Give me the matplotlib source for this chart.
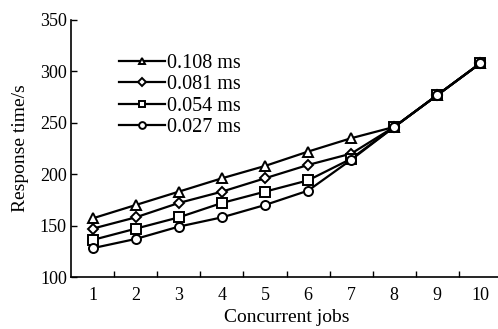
import matplotlib
matplotlib.use('Agg')
import matplotlib.pyplot as plt

# 数据
jobs = [1, 2, 3, 4, 5, 6, 7, 8, 9, 10]
labels = ['0.108 ms', '0.081 ms', '0.054 ms', '0.027 ms']
markers = ['^', 'D', 's', 'o']
t_108 = [157, 170, 183, 196, 208, 222, 235, 246, 277, 308]
t_081 = [147, 158, 172, 183, 196, 209, 220, 246, 277, 308]
t_054 = [136, 147, 158, 172, 183, 194, 215, 246, 277, 308]
t_027 = [128, 137, 149, 158, 170, 184, 214, 246, 277, 308]
y_ticks = [100, 150, 200, 250, 300, 350]

plt.rcParams['font.family'] = ['Liberation Serif', 'DejaVu Serif']

fig = plt.figure(figsize=(4.98, 3.29), dpi=100)
ax = fig.add_axes([71 / 498, 52 / 329, 431 / 498, 257 / 329])

for series, m, lab in zip([t_108, t_081, t_054, t_027], markers, labels):
    ms = 5 if m == 'D' else 6.5
    ax.plot(jobs, series, color='black', linewidth=1.6, marker=m, markersize=ms,
            markerfacecolor='white', markeredgecolor='black', markeredgewidth=1.4,
            label=lab)

ax.set_xlim(0.5, 10.5)
ax.set_ylim(100, 350)
ax.set_yticks(y_ticks)
ax.set_xticks(jobs)
ax.set_xticks([j + 0.5 for j in jobs[:-1]], minor=True)
ax.tick_params(axis='x', which='major', length=0, labelsize=13, pad=7)
ax.tick_params(axis='x', which='minor', direction='in', length=4, width=1)
ax.tick_params(axis='y', direction='in', length=4, width=1, labelsize=13, pad=3)

for s in ['top', 'right']:
    ax.spines[s].set_visible(False)
for s in ['left', 'bottom']:
    ax.spines[s].set_linewidth(1.2)

ax.set_xlabel('Concurrent jobs', fontsize=14, labelpad=4)
ax.set_ylabel('Response time/s', fontsize=14, labelpad=8)

ax.legend(loc='upper left', bbox_to_anchor=(0.093, 0.90), frameon=False,
          fontsize=14.5, handlelength=2.3, handletextpad=0.1, labelspacing=0.12,
          borderaxespad=0, markerscale=0.75)

plt.savefig('out.png', dpi=100)
